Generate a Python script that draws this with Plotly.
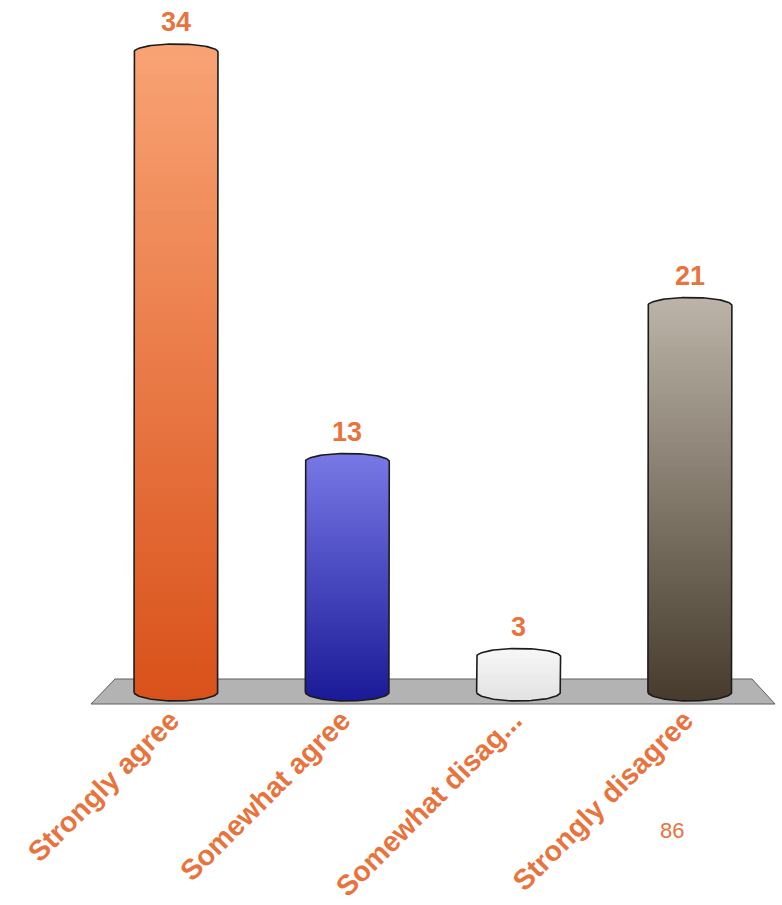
import numpy as np
import plotly.graph_objects as go

# Survey responses
categories = ["Strongly agree", "Somewhat agree", "Somewhat disag...", "Strongly disagree"]
responses = [34, 13, 3, 21]
total_label = "86"

# Cylinder colours (top of body, bottom of body)
top_colors = ["#F9A374", "#7878E6", "#F7F7F7", "#BCB4A8"]
bottom_colors = ["#D9511A", "#1A1A98", "#E2E2E2", "#463B2C"]

LABEL_ORANGE = "#E9733D"
FONT = "Liberation Sans, Arial, sans-serif"

# Geometry of the pseudo-3D cylinders (axis units)
HALF_W = 0.245       # half width of a cylinder along x
FLOOR_V = 1.18       # level where cylinders meet the floor
RY_TOP = 0.41        # vertical radius of the top ellipse
RY_BOT = 0.46        # vertical radius of the bottom ellipse

fig = go.Figure()


def cylinder_outline(xc, v):
    """Closed outline of a cylinder seen slightly from above."""
    a_top = np.linspace(np.pi, 0, 48)
    a_bot = np.linspace(0, -np.pi, 48)
    xs = np.concatenate([
        [xc - HALF_W],
        xc + HALF_W * np.cos(a_top),
        [xc + HALF_W],
        xc + HALF_W * np.cos(a_bot),
        [xc - HALF_W],
    ])
    ys = np.concatenate([
        [FLOOR_V],
        v + RY_TOP * np.sin(a_top),
        [FLOOR_V],
        FLOOR_V + RY_BOT * np.sin(a_bot),
        [FLOOR_V],
    ])
    return xs, ys


for i, (v, ct, cb) in enumerate(zip(responses, top_colors, bottom_colors)):
    xs, ys = cylinder_outline(i, v)
    fig.add_trace(go.Scatter(
        x=xs, y=ys, mode="lines", fill="toself",
        fillgradient=dict(type="vertical", colorscale=[[0, cb], [1, ct]]),
        line=dict(color="#1b1b1b", width=1.6),
        hoverinfo="skip", showlegend=False,
    ))
    fig.add_annotation(
        x=i, y=v, yshift=30, text=str(v), showarrow=False,
        yanchor="middle",
        font=dict(family=FONT, size=27, color=LABEL_ORANGE, weight="bold"),
    )

# Grey floor plate under the cylinders
fig.add_shape(
    type="path",
    path="M -0.496,0.564 L -0.356,1.846 L 3.3625,1.846 L 3.497,0.564 Z",
    xref="x", yref="y", layer="below",
    fillcolor="#B3B3B3", line=dict(color="#5E5E5E", width=1),
)

# Total count shown in the lower right
fig.add_annotation(
    x=672 / 782, y=-0.162, xref="paper", yref="paper",
    xanchor="center", yanchor="middle",
    text=total_label, showarrow=False,
    font=dict(family=FONT, size=22, color=LABEL_ORANGE),
)

fig.update_layout(
    width=782, height=905,
    margin=dict(l=0, r=0, t=0, b=190, autoexpand=False),
    paper_bgcolor="white", plot_bgcolor="white",
    showlegend=False,
    xaxis=dict(
        range=[-176 / 171.3, 606 / 171.3],
        tickvals=[i - 0.03 for i in range(len(categories))], ticktext=categories,
        tickangle=-45,
        tickfont=dict(family=FONT, size=28.5, color=LABEL_ORANGE, weight="bold"),
        ticklabelstandoff=-18,
        automargin=False,
        showgrid=False, zeroline=False, showline=False, ticks="",
        fixedrange=True,
    ),
    yaxis=dict(range=[0, 715 / 19.5], visible=False, fixedrange=True,
               automargin=False),
)

fig.write_html("out.html")
